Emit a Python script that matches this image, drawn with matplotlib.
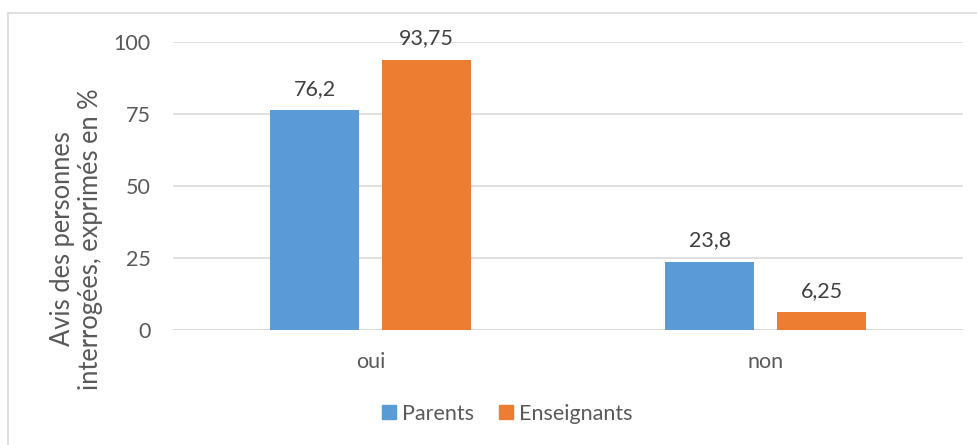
import numpy as np
import matplotlib.pyplot as plt
from matplotlib.lines import Line2D

# ================== DATA ==================
categories = ["oui", "non"]
parents = [76.2, 23.8]
enseignants = [93.75, 6.25]
parents_labels = ["76,2", "23,8"]
enseignants_labels = ["93,75", "6,25"]
series_names = ["Parents", "Enseignants"]
ylabel_text = "Avis des personnes\ninterrogées, exprimés en %"
# ==========================================

blue = "#5B9BD5"
orange = "#ED7D31"
text_grey = "#595959"
label_grey = "#404040"
grid_grey = "#D9D9D9"

plt.rcParams['font.family'] = ['Lato', 'DejaVu Sans']

fig = plt.figure(figsize=(9.78, 4.45), dpi=100)
ax = fig.add_axes([0.177, 0.258, 0.808, 0.648])

x = np.arange(len(categories))
w = 0.225
off = w / 2 + 0.029

b1 = ax.bar(x - off, parents, w, color=blue, zorder=3)
b2 = ax.bar(x + off, enseignants, w, color=orange, zorder=3)

for bars, labs in ((b1, parents_labels), (b2, enseignants_labels)):
    for rect, lab in zip(bars, labs):
        ax.text(rect.get_x() + rect.get_width() / 2, rect.get_height() + 4.0, lab,
                ha="center", va="bottom", fontsize=15.5, color=label_grey)

ax.set_xlim(-0.5, 1.5)
ax.set_ylim(0, 100)
ax.set_yticks([0, 25, 50, 75, 100])
ax.set_xticks(x)
ax.set_xticklabels(categories)
ax.tick_params(axis="both", length=0, labelsize=15.5, colors=text_grey)
ax.tick_params(axis="y", pad=16)
ax.tick_params(axis="x", pad=16)

ax.yaxis.grid(True, color=grid_grey, lw=1.2, zorder=0)
ax.set_axisbelow(True)
for s in ax.spines.values():
    s.set_visible(False)
ax.axhline(0, color=grid_grey, lw=1.2, zorder=1)

# y label sits lower than the axes centre in the original
fig.text(77 / 978, 1 - 239 / 445, ylabel_text, rotation=90, ha="center", va="center",
         fontsize=18.4, color=text_grey, linespacing=1.15, multialignment="center")

handles = [Line2D([], [], marker="s", ls="", markersize=10, color=blue),
           Line2D([], [], marker="s", ls="", markersize=10, color=orange)]
fig.legend(handles, series_names, loc="center", bbox_to_anchor=(0.517, 0.07),
           ncol=2, frameon=False, fontsize=15.5, labelcolor=text_grey,
           handletextpad=0.1, columnspacing=1.0, handlelength=1.0)

# outer chart frame (top and left edges visible)
fig.add_artist(Line2D([0.008, 1.0], [1 - 13 / 445, 1 - 13 / 445], color="#D9D9D9", lw=1.2,
                      transform=fig.transFigure))
fig.add_artist(Line2D([0.008, 0.008], [0.0, 1 - 13 / 445], color="#D9D9D9", lw=1.2,
                      transform=fig.transFigure))

fig.savefig("out.png", dpi=100, facecolor="white")
